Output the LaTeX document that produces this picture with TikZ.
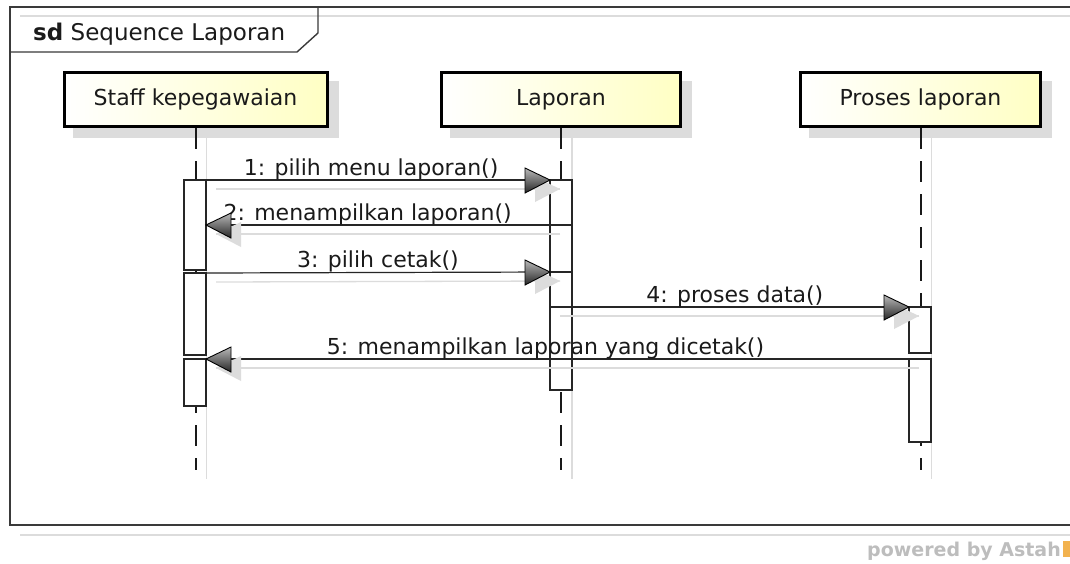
\documentclass[tikz,border=0pt]{standalone}
\usepackage{fontspec}
\setmainfont{DejaVu Sans}
\usetikzlibrary{calc}
\pgfdeclarelayer{bg}
\pgfsetlayers{bg,main}
\definecolor{frameC}{HTML}{3A3A3A}
\definecolor{shadowC}{HTML}{DCDCDC}
\definecolor{boxY}{HTML}{FFFFC4}
\definecolor{astahGray}{HTML}{BDBDBD}
\definecolor{astahOrange}{HTML}{F2B24E}
\definecolor{txtC}{HTML}{1A1A1A}
\newcommand\mytipR[1]{%
  \begin{scope}[shift={(#1)}]
    \fill[shadowC] (10,9) -- (-15,-3) -- (-15,22) -- cycle;
    \draw[line width=0.9pt, top color=gray!55, bottom color=black!85] (0,0) -- (-25,-12) -- (-25,13) -- cycle;
  \end{scope}}
\newcommand\mytipL[1]{%
  \begin{scope}[shift={(#1)}]
    \fill[shadowC] (10,9) -- (35,-3) -- (35,22) -- cycle;
    \draw[line width=0.9pt, top color=gray!55, bottom color=black!85] (0,0) -- (25,-12) -- (25,13) -- cycle;
  \end{scope}}
\begin{document}
\begin{tikzpicture}[x=1pt,y=-1pt,
  every node/.style={text=txtC},
  bigfont/.style={font=\fontsize{22}{26}\selectfont},
  lbox/.style={draw=black, line width=3pt, left color=white, right color=boxY,
    minimum height=54pt, inner sep=0, bigfont},
  bar/.style={draw=black!85, fill=white, line width=1.2pt, minimum width=22pt, inner sep=0, outer sep=0, anchor=north},
  lifeline/.style={draw=black!90, line width=2pt, dash pattern=on 21pt off 12pt},
  lifesh/.style={draw=shadowC, line width=1.2pt},
  msg/.style={draw=black!85, line width=1.2pt},
  msgsh/.style={draw=shadowC, line width=1.3pt},
  lbl/.style={anchor=base, yshift=5pt, inner sep=0, bigfont},
  frame/.style={draw=frameC, line width=1.4pt}]
\clip (0,0) rectangle (1070,563);

% frame
\draw[shadowC, line width=1.2pt] (20,16) -- (1100,16);
\draw[shadowC, line width=1.2pt] (20,535) -- (1100,535);
\draw[frame] (10,7) rectangle (1090,525);
\draw[frame] (10,52) -- (297,52) -- (318,33) -- (318,7);
\node[anchor=base west, inner sep=0, font=\fontsize{23}{27}\selectfont] (title) at (33,40) {\textbf{sd} Sequence Laporan};

% lifeline heads
\node[lbox, minimum width=263pt] (staff) at (195.5,99.5) {Staff kepegawaian};
\node[lbox, minimum width=239pt] (laporan) at (561,99.5) {Laporan};
\node[lbox, minimum width=240pt] (proses) at (920.5,99.5) {Proses laporan};

\coordinate (endy) at (0,470);
\coordinate (endsh) at (0,479);
\begin{pgfonlayer}{bg}
  \fill[white] (0,0) rectangle (1070,563);
  \foreach \n in {staff,laporan,proses}{
    \fill[shadowC] ([shift={(10,10)}]\n.south west) rectangle ([shift={(10,10)}]\n.north east);
    \draw[lifesh] ([shift={(11,9)}]\n.south) -- ([xshift=11pt]\n.south |- endsh);
    \draw[lifeline] (\n.south) -- (\n.south |- endy);
  }
\end{pgfonlayer}

% activation bars
\node[bar, minimum height=90pt] (s1) at (195,180) {};
\node[bar, minimum height=82pt] (s2) at (195,273) {};
\node[bar, minimum height=47pt] (s3) at (195,359) {};
\node[bar, minimum height=45pt] (l1) at (561,180) {};
\node[bar, minimum height=47pt] (l2) at (561,225) {};
\node[bar, minimum height=35pt] (l3) at (561,272) {};
\node[bar, minimum height=83pt] (l4) at (561,307) {};
\node[bar, minimum height=46pt] (p1) at (920,307) {};
\node[bar, minimum height=83pt] (p2) at (920,359) {};

% message shadows
\draw[msgsh] ([shift={(10,9)}]s1.north east) -- ([shift={(10,9)}]l1.north west);
\draw[msgsh] ([shift={(10,9)}]l2.north west) -- ([shift={(10,9)}]s1.east |- l2.north);
\draw[msgsh] ([shift={(10,9)}]s2.north east) -- ([shift={(10,9)}]l3.north west);
\draw[msgsh] ([shift={(10,9)}]l4.north west) -- ([shift={(10,9)}]p1.north west);
\draw[msgsh] ([shift={(10,9)}]p2.north west) -- ([shift={(10,9)}]s3.north east);

% messages
\draw[msg] (s1.north east) -- (l1.north west) node[lbl, pos=0.48] {1: pilih menu laporan()};
\draw[msg] (l2.north west) -- (s1.east |- l2.north) node[lbl, pos=0.53] {2: menampilkan laporan()};
\draw[msg] (s2.north east) -- (l3.north west) node[lbl, pos=0.5] {3: pilih cetak()};
\draw[msg] (l4.north west) -- (p1.north west) node[lbl, pos=0.515] {4: proses data()};
\draw[msg] (p2.north west) -- (s3.north east) node[lbl, pos=0.517] {5: menampilkan laporan yang dicetak()};

\mytipR{l1.north west}
\mytipL{s1.east |- l2.north}
\mytipR{l3.north west}
\mytipR{p1.north west}
\mytipL{s3.north east}

% watermark
\node[anchor=base east, inner sep=0, text=astahGray, font=\bfseries\fontsize{19}{22}\selectfont] (powered) at (1061,556) {powered by Astah};
\fill[astahOrange] (1063,541) rectangle (1070,557);
\end{tikzpicture}
\end{document}
